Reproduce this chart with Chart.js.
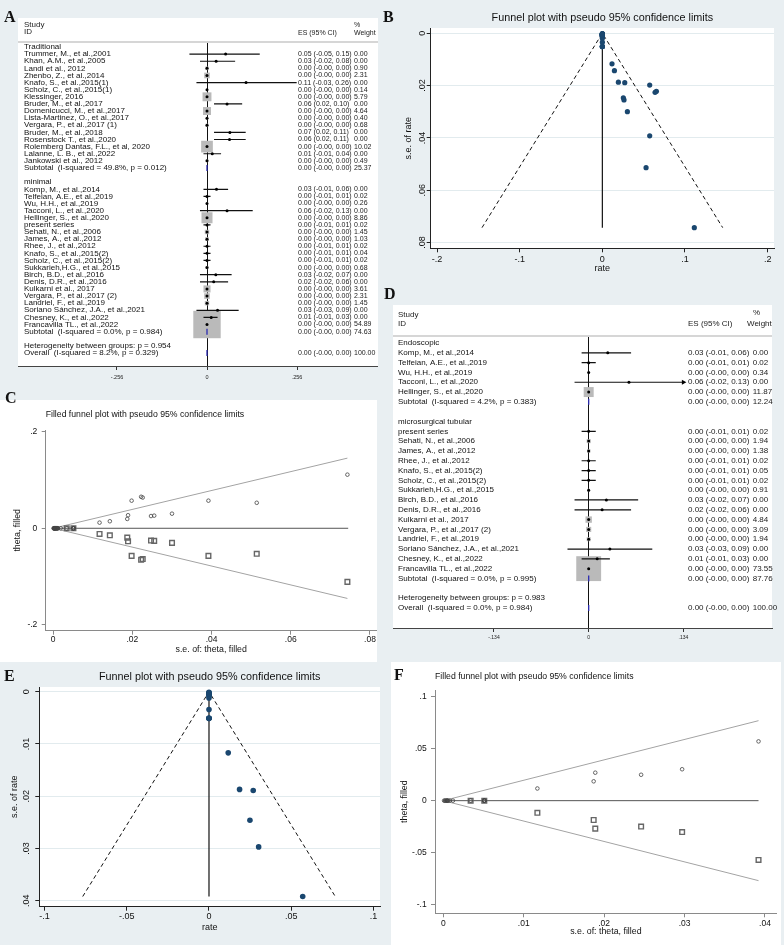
<!DOCTYPE html>
<html>
<head>
<meta charset="utf-8">
<script src="https://cdn.jsdelivr.net/npm/chart.js@4.4.1/dist/chart.umd.min.js"></script>
<style>
  html, body { margin: 0; padding: 0; }
  body { background: #e9eff2; width: 784px; height: 945px; position: relative; overflow: hidden;
         font-family: "Liberation Sans", Arial, sans-serif; }
  .box { position: absolute; background: #fff; }
  canvas { position: absolute; }
  .tag { position: absolute; font: bold 16px/16px "Liberation Serif", "Times New Roman", serif; color: #111; }
  .hd { position: absolute; font-size: 8px; line-height: 8px; color: #222; white-space: nowrap; }
  .hd.sm { font-size: 7px; line-height: 8px; }
  .rule { position: absolute; height: 2px; background: #d6d6d6; }
</style>
</head>
<body>
<div class="box" style="left:18px;top:18px;width:360px;height:348px"></div>
<div class="box" style="left:0;top:400px;width:377px;height:262px"></div>
<div class="box" style="left:393px;top:305px;width:379px;height:323px"></div>
<div class="box" style="left:391px;top:662px;width:390px;height:283px"></div>

<canvas id="cA" width="360" height="374" style="left:18px;top:18px"></canvas>
<canvas id="cB" width="394" height="278" style="left:390px;top:0"></canvas>
<canvas id="cC" width="377" height="270" style="left:0;top:395px"></canvas>
<canvas id="cD" width="391" height="345" style="left:393px;top:305px"></canvas>
<canvas id="cE" width="390" height="280" style="left:0;top:665px"></canvas>
<canvas id="cF" width="390" height="283" style="left:391px;top:662px"></canvas>

<!-- forest plot headers -->
<div class="hd" style="left:24px;top:21px">Study</div>
<div class="hd" style="left:24px;top:28px">ID</div>
<div class="hd sm" style="left:298px;top:29px">ES (95% CI)</div>
<div class="hd sm" style="left:354px;top:21px">%</div>
<div class="hd sm" style="left:354px;top:29px">Weight</div>
<div class="rule" style="left:18px;top:41px;width:360px"></div>

<div class="hd" style="left:398px;top:311px">Study</div>
<div class="hd" style="left:398px;top:320px">ID</div>
<div class="hd" style="left:688px;top:320px">ES (95% CI)</div>
<div class="hd" style="left:753px;top:309px">%</div>
<div class="hd" style="left:747px;top:320px">Weight</div>
<div class="rule" style="left:393px;top:335px;width:379px"></div>

<div class="tag" style="left:4px;top:9px">A</div>
<div class="tag" style="left:383px;top:9px">B</div>
<div class="tag" style="left:5px;top:390px">C</div>
<div class="tag" style="left:384px;top:286px">D</div>
<div class="tag" style="left:4px;top:668px">E</div>
<div class="tag" style="left:394px;top:667px">F</div>

<script>
// ---------- panel A: forest plot, all studies ----------
const aLabels = [
  'Traditional',
  'Trummer, M., et al.,2001', 'Khan, A.M., et al.,2005', 'Landi et al., 2012', 'Zhenbo, Z., et al.,2014',
  'Knafo, S., et al.,2015(1)', 'Scholz, C., et al.,2015(1)', 'Klessinger, 2016', 'Bruder, M., et al.,2017',
  'Domenicucci, M., et al.,2017', 'Lista-Martinez, O., et al.,2017', 'Vergara, P., et al.,2017 (1)',
  'Bruder, M., et al.,2018', 'Rosenstock T., et al.,2020', 'Rolemberg Dantas, F.L., et al, 2020',
  'Lalanne, L. B., et al.,2022', 'Jankowski et al., 2012',
  'Subtotal  (I-squared = 49.8%, p = 0.012)',
  '',
  'minimal',
  'Komp, M., et al.,2014', 'Telfeian, A.E., et al.,2019', 'Wu, H.H., et al.,2019', 'Tacconi, L., et al.,2020',
  'Hellinger, S., et al.,2020', 'present series', 'Sehati, N., et al.,2006', 'James, A., et al.,2012',
  'Rhee, J., et al.,2012', 'Knafo, S., et al.,2015(2)', 'Scholz, C., et al.,2015(2)', 'Sukkarieh,H.G., et al.,2015',
  'Birch, B.D., et al.,2016', 'Denis, D.R., et al.,2016', 'Kulkarni et al., 2017', 'Vergara, P., et al.,2017 (2)',
  'Landriel, F., et al.,2019', 'Soriano Sánchez, J.A., et al.,2021', 'Chesney, K., et al.,2022',
  'Francavilla TL., et al.,2022',
  'Subtotal  (I-squared = 0.0%, p = 0.984)',
  '',
  'Heterogeneity between groups: p = 0.954',
  'Overall  (I-squared = 8.2%, p = 0.329)'
];
const aEsText = ['',
  '0.05 (-0.05, 0.15)', '0.03 (-0.02, 0.08)', '0.00 (-0.00, 0.00)', '0.00 (-0.00, 0.00)', '0.11 (-0.03, 0.26)',
  '0.00 (-0.00, 0.00)', '0.00 (-0.00, 0.00)', '0.06 (0.02, 0.10)', '0.00 (-0.00, 0.00)', '0.00 (-0.00, 0.00)',
  '0.00 (-0.00, 0.00)', '0.07 (0.02, 0.11)', '0.06 (0.02, 0.11)', '0.00 (-0.00, 0.00)', '0.01 (-0.01, 0.04)',
  '0.00 (-0.00, 0.00)', '0.00 (-0.00, 0.00)', '', '',
  '0.03 (-0.01, 0.06)', '0.00 (-0.01, 0.01)', '0.00 (-0.00, 0.00)', '0.06 (-0.02, 0.13)', '0.00 (-0.00, 0.00)',
  '0.00 (-0.01, 0.01)', '0.00 (-0.00, 0.00)', '0.00 (-0.00, 0.00)', '0.00 (-0.01, 0.01)', '0.00 (-0.01, 0.01)',
  '0.00 (-0.01, 0.01)', '0.00 (-0.00, 0.00)', '0.03 (-0.02, 0.07)', '0.02 (-0.02, 0.06)', '0.00 (-0.00, 0.00)',
  '0.00 (-0.00, 0.00)', '0.00 (-0.00, 0.00)', '0.03 (-0.03, 0.09)', '0.01 (-0.01, 0.03)', '0.00 (-0.00, 0.00)',
  '0.00 (-0.00, 0.00)', '', '', '0.00 (-0.00, 0.00)'];
const aWeight = [null, 0, 0, 0.90, 2.31, 0, 0.14, 5.79, 0, 4.64, 0.40, 0.68, 0, 0, 10.02, 0, 0.49, 25.37, null, null,
  0, 0.02, 0.26, 0, 8.86, 0.02, 1.45, 1.03, 0.02, 0.04, 0.02, 0.68, 0, 0, 3.61, 2.31, 1.45, 0, 0, 54.89, 74.63,
  null, null, 100];
const aEs = [null, 0.053, 0.026, 0, 0, 0.111, 0, 0, 0.057, 0, 0, 0, 0.065, 0.064, 0, 0.015, 0, 0, null, null,
  0.027, 0, 0, 0.057, 0, 0, 0, 0, 0, 0, 0, 0, 0.025, 0.019, 0, 0, 0, 0.030, 0.012, 0, 0, null, null, 0];
const aLo = [null, -0.05, -0.02, 0, 0, -0.03, 0, 0, 0.02, 0, 0, 0, 0.02, 0.02, 0, -0.01, 0, 0, null, null,
  -0.01, -0.01, 0, -0.02, 0, -0.01, 0, 0, -0.01, -0.01, -0.01, 0, -0.02, -0.02, 0, 0, 0, -0.03, -0.01, 0, 0,
  null, null, 0];
const aHi = [null, 0.15, 0.08, 0, 0, 0.255, 0, 0, 0.10, 0, 0, 0, 0.11, 0.11, 0, 0.04, 0, 0, null, null,
  0.06, 0.01, 0, 0.13, 0, 0.01, 0, 0, 0.01, 0.01, 0.01, 0, 0.07, 0.06, 0, 0, 0, 0.09, 0.03, 0, 0, null, null, 0];
const aXTicks = [-0.256, 0, 0.256];

// ---------- panel D: forest plot, minimal-access studies ----------
const dLabels = [
  'Endoscopic', 'Komp, M., et al.,2014', 'Telfeian, A.E., et al.,2019', 'Wu, H.H., et al.,2019',
  'Tacconi, L., et al.,2020', 'Hellinger, S., et al.,2020', 'Subtotal  (I-squared = 4.2%, p = 0.383)', '',
  'microsurgical tubular', 'present series', 'Sehati, N., et al.,2006', 'James, A., et al.,2012',
  'Rhee, J., et al.,2012', 'Knafo, S., et al.,2015(2)', 'Scholz, C., et al.,2015(2)', 'Sukkarieh,H.G., et al.,2015',
  'Birch, B.D., et al.,2016', 'Denis, D.R., et al.,2016', 'Kulkarni et al., 2017', 'Vergara, P., et al.,2017 (2)',
  'Landriel, F., et al.,2019', 'Soriano Sánchez, J.A., et al.,2021', 'Chesney, K., et al.,2022',
  'Francavilla TL., et al.,2022', 'Subtotal  (I-squared = 0.0%, p = 0.995)', '',
  'Heterogeneity between groups: p = 0.983', 'Overall  (I-squared = 0.0%, p = 0.984)'
];
const dEsText = ['',
  '0.03 (-0.01, 0.06)', '0.00 (-0.01, 0.01)', '0.00 (-0.00, 0.00)', '0.06 (-0.02, 0.13)', '0.00 (-0.00, 0.00)',
  '0.00 (-0.00, 0.00)', '', '',
  '0.00 (-0.01, 0.01)', '0.00 (-0.00, 0.00)', '0.00 (-0.00, 0.00)', '0.00 (-0.01, 0.01)', '0.00 (-0.01, 0.01)',
  '0.00 (-0.01, 0.01)', '0.00 (-0.00, 0.00)', '0.03 (-0.02, 0.07)', '0.02 (-0.02, 0.06)', '0.00 (-0.00, 0.00)',
  '0.00 (-0.00, 0.00)', '0.00 (-0.00, 0.00)', '0.03 (-0.03, 0.09)', '0.01 (-0.01, 0.03)', '0.00 (-0.00, 0.00)',
  '0.00 (-0.00, 0.00)', '', '', '0.00 (-0.00, 0.00)'];
const dWeight = [null, 0, 0.02, 0.34, 0, 11.87, 12.24, null, null, 0.02, 1.94, 1.38, 0.02, 0.05, 0.02, 0.91,
  0, 0, 4.84, 3.09, 1.94, 0, 0, 73.55, 87.76, null, null, 100];
const dEs = [null, 0.027, 0, 0, 0.057, 0, 0, null, null, 0, 0, 0, 0, 0, 0, 0, 0.025, 0.019, 0, 0, 0, 0.030,
  0.012, 0, 0, null, null, 0];
const dLo = [null, -0.01, -0.01, 0, -0.02, 0, 0, null, null, -0.01, 0, 0, -0.01, -0.01, -0.01, 0, -0.02, -0.02,
  0, 0, 0, -0.03, -0.01, 0, 0, null, null, 0];
const dHi = [null, 0.06, 0.01, 0, 0.134, 0, 0, null, null, 0.01, 0, 0, 0.01, 0.01, 0.01, 0, 0.07, 0.06,
  0, 0, 0, 0.09, 0.03, 0, 0, null, null, 0];
const dArrow = ['Tacconi, L., et al.,2020'];   // CI runs off the axis
const dXTicks = [-0.134, 0, 0.134];

// ---------- panel B / C: funnel data, all studies (rate, s.e.) ----------
const bRate = [0.0529, 0.0262, 0, 0, 0.1113, 0, 0, 0.0573, 0, 0, 0, 0.0654, 0.0638, 0, 0.0146, 0,
  0.0271, 0, 0, 0.0573, 0, 0, 0, 0, 0, 0, 0, 0, 0.0254, 0.0194, 0, 0, 0, 0.0303, 0.0117, 0];
const bSe = [0.0514, 0.0255, 0.0008, 0.0005, 0.0743, 0.0019, 0.0003, 0.0198, 0.0003, 0.0011, 0.0009, 0.0222,
  0.0226, 0.0002, 0.0143, 0.0010, 0.0189, 0.0051, 0.0012, 0.0392, 0.0002, 0.0051, 0.0005, 0.0006, 0.0051,
  0.0034, 0.0051, 0.0008, 0.0247, 0.0187, 0.0003, 0.0004, 0.0005, 0.0300, 0.0117, 0.0001];
const bLimRate = [-0.1456, 0, 0.1456];
const bLimSe = [0.0743, 0, 0.0743];
const bMidRate = [0, 0];
const bMidSe = [0, 0.0743];
const bXTicks = [-0.2, -0.1, 0, 0.1, 0.2];
const bYTicks = [0, 0.02, 0.04, 0.06, 0.08];

const cFillSe = [0.0514, 0.0255, 0.0743, 0.0198, 0.0222, 0.0226, 0.0143, 0.0189, 0.0392, 0.0247, 0.0187,
  0.0300, 0.0117, 0.0034, 0.0051];
const cFillTheta = [-0.0529, -0.0262, -0.1113, -0.0573, -0.0654, -0.0638, -0.0146, -0.0271, -0.0573, -0.0254,
  -0.0194, -0.0303, -0.0117, 0, 0];
const cLimSe = [0.0743, 0, 0.0743];
const cLimTheta = [0.1456, 0, -0.1456];
const cMidSe = [0, 0.0745];
const cMidTheta = [0, 0];
const cXTicks = [0, 0.02, 0.04, 0.06, 0.08];
const cYTicks = [-0.2, 0, 0.2];

// ---------- panel E / F: funnel data, minimal-access studies ----------
const eRate = [0.0269, 0, 0, 0.0570, 0, 0, 0, 0, 0, 0, 0, 0, 0.0249, 0.0186, 0, 0, 0, 0.0302, 0.0117, 0];
const eSe = [0.0189, 0.0051, 0.0012, 0.0392, 0.0002, 0.0051, 0.0005, 0.0006, 0.0051, 0.0034, 0.0051, 0.0008,
  0.0246, 0.0187, 0.0003, 0.0004, 0.0005, 0.0297, 0.0117, 0.0001];
const eLimRate = [-0.0768, 0, 0.0768];
const eLimSe = [0.0392, 0, 0.0392];
const eMidRate = [0, 0];
const eMidSe = [0, 0.0392];
const eXTicks = [-0.1, -0.05, 0, 0.05, 0.1];
const eYTicks = [0, 0.01, 0.02, 0.03, 0.04];

const fFillSe = [0.0392, 0.0297, 0.0246, 0.0189, 0.0187, 0.0117, 0.0034, 0.0051];
const fFillTheta = [-0.0570, -0.0302, -0.0249, -0.0269, -0.0186, -0.0117, 0, 0];
const fLimSe = [0.0392, 0, 0.0392];
const fLimTheta = [0.0769, 0, -0.0769];
const fMidSe = [0, 0.0392];
const fMidTheta = [0, 0];
const fXTicks = [0, 0.01, 0.02, 0.03, 0.04];
const fYTicks = [-0.1, -0.05, 0, 0.05, 0.1];

// ---------- helpers ----------
const FONT = '"Liberation Sans", Arial, sans-serif';
const NAVY = '#1a476f';
Chart.defaults.font.family = FONT;
Chart.defaults.color = '#111';

// stata style numbers: .05, -.2, 0
function stataNum(v) {
  if (Math.abs(v) < 1e-12) return '0';
  return String(parseFloat(v.toFixed(4))).replace(/^(-?)0\./, '$1.');
}

function pts(xs, ys) {
  return xs.map((x, i) => ({x: x, y: ys[i]}));
}

// extra drawing: white plot region, titles, rotated y labels, text columns
function stataExtras(cfg) {
  return {
    id: 'stataExtras',
    beforeDraw(chart) {
      if (!cfg.plotFill) return;
      const a = chart.chartArea, ctx = chart.ctx;
      ctx.save();
      ctx.fillStyle = cfg.plotFill;
      ctx.fillRect(a.left, a.top, a.right - a.left, a.bottom - a.top);
      ctx.restore();
    },
    afterDraw(chart) {
      const a = chart.chartArea, ctx = chart.ctx;
      ctx.save();
      ctx.fillStyle = '#111';
      ctx.textBaseline = 'middle';
      if (cfg.title) {
        ctx.font = cfg.title.font;
        ctx.textAlign = cfg.title.align === 'start' ? 'left' : 'center';
        const tx = cfg.title.align === 'start' ? a.left : (a.left + a.right) / 2;
        ctx.fillText(cfg.title.text, tx, cfg.title.y);
      }
      if (cfg.rotY) {
        const s = chart.scales.y;
        ctx.font = cfg.rotY.font;
        ctx.textAlign = 'center';
        s.ticks.forEach(t => {
          ctx.save();
          ctx.translate(a.left - cfg.rotY.gap, s.getPixelForValue(t.value));
          ctx.rotate(-Math.PI / 2);
          ctx.fillText(stataNum(t.value), 0, 0);
          ctx.restore();
        });
      }
      if (cfg.columns) {
        const s = chart.scales.y;
        ctx.font = cfg.columns.font;
        ctx.fillStyle = '#222';
        ctx.textAlign = 'left';
        cfg.columns.items.forEach(col => {
          col.text.forEach((txt, i) => {
            if (txt) ctx.fillText(txt, col.x, s.getPixelForValue(i));
          });
        });
      }
      ctx.restore();
    }
  };
}

function axis(o) {
  return {
    min: o.min, max: o.max, reverse: !!o.reverse,
    afterBuildTicks: s => { s.ticks = o.ticks.map(v => ({value: v})); },
    afterFit: s => { if (s.isHorizontal()) s.height = o.size; else s.width = o.size; },
    grid: { drawOnChartArea: !!o.gridColor, color: o.gridColor || o.color, tickColor: o.color, tickLength: 4 },
    border: { color: o.color, width: 1 },
    ticks: { display: o.showTicks !== false, callback: stataNum, font: {size: o.font}, color: '#111',
             padding: o.tickPad, maxRotation: 0, autoSkip: false },
    title: { display: true, text: o.title, font: {size: o.titleFont || o.font}, color: '#111', padding: o.titlePad }
  };
}

function makeChart(id, datasets, padding, x, y, extras) {
  return new Chart(document.getElementById(id), {
    type: 'scatter',
    data: { datasets: datasets },
    options: {
      responsive: false, animation: false, devicePixelRatio: 1,
      layout: { padding: padding, autoPadding: false },
      plugins: { legend: {display: false}, tooltip: {enabled: false}, colors: {enabled: false} },
      scales: { x: x, y: y }
    },
    plugins: [stataExtras(extras)]
  });
}

// datasets for a forest plot: dots, pooled marks, CI lines, weight boxes
function forestSets(labels, es, lo, hi, wt, boxScale, arrows) {
  const ci = [], boxes = [], dots = [], pooled = [], arrowPts = [];
  labels.forEach((lab, i) => {
    if (es[i] === null) return;
    if (/^(Subtotal|Overall)/.test(lab)) { pooled.push({x: es[i], y: i}); return; }
    ci.push({x: lo[i], y: i}, {x: hi[i], y: i}, {x: NaN, y: NaN});
    dots.push({x: es[i], y: i});
    boxes.push({x: es[i], y: i, w: wt[i]});
    if (arrows.includes(lab)) arrowPts.push({x: hi[i], y: i});
  });
  return [
    { data: dots, pointRadius: 1.5, pointBackgroundColor: '#000', pointBorderWidth: 0 },
    { data: arrowPts, pointStyle: 'triangle', pointRotation: 90, pointRadius: 3,
      pointBackgroundColor: '#000', pointBorderWidth: 0 },
    { data: pooled, pointStyle: 'line', pointRotation: 90, pointRadius: 3,
      pointBorderColor: '#2b2bb0', pointBorderWidth: 1.3 },
    { data: ci, showLine: true, borderColor: '#111', borderWidth: 1.2, pointRadius: 0 },
    { data: boxes, pointStyle: 'rect', pointBackgroundColor: '#bababa', pointBorderWidth: 0,
      pointRadius: c => boxScale * Math.sqrt(c.raw.w) / Math.SQRT2 }
  ];
}

function forestX(min, max, ticks, size, font, pad) {
  return {
    min: min, max: max,
    afterBuildTicks: s => { s.ticks = ticks.map(v => ({value: v})); },
    afterFit: s => { s.height = size; },
    grid: { drawOnChartArea: true, tickLength: 4, tickColor: '#333',
            color: c => (c.tick && c.tick.value === 0) ? '#111' : 'rgba(0,0,0,0)' },
    border: { color: '#444', width: 1 },
    ticks: { callback: stataNum, font: {size: font}, color: '#222', padding: pad, maxRotation: 0, autoSkip: false }
  };
}

function forestY(min, max, labels, font, pad) {
  return {
    min: min, max: max, reverse: true,
    afterFit: s => { s.width = 0; },
    grid: { display: false }, border: { display: false },
    ticks: { stepSize: 1, autoSkip: false, includeBounds: false, mirror: true, crossAlign: 'near', padding: pad,
             font: {size: font}, color: '#111',
             callback: v => Number.isInteger(v) ? (labels[v] || '') : '' }
  };
}

const wText = w => w.map(v => v === null ? '' : v.toFixed(2));

// ---------- A ----------
makeChart('cA', forestSets(aLabels, aEs, aLo, aHi, aWeight, 3.7, []),
  {top: 25, left: 0, right: 0, bottom: 0},
  forestX(-0.5375, 0.4863, aXTicks, 26, 5.5, 3.7),
  forestY(-0.562, 44.83, aLabels, 8, 6),
  {columns: {font: '7px ' + FONT, items: [{x: 280, text: aEsText}, {x: 336, text: wText(aWeight)}]}});

// ---------- D ----------
makeChart('cD', forestSets(dLabels, dEs, dLo, dHi, dWeight, 2.9, dArrow),
  {top: 32, left: 0, right: 12, bottom: 0},
  forestX(-0.2769, 0.2594, dXTicks, 22, 5, 3),
  forestY(-0.612, 29.05, dLabels, 8, 5),
  {columns: {font: '8px ' + FONT, items: [{x: 295, text: dEsText}, {x: 359.7, text: wText(dWeight)}]}});

// ---------- B ----------
makeChart('cB', [
    { data: pts(bRate, bSe), pointRadius: 2.6, pointBackgroundColor: NAVY, pointBorderWidth: 0 },
    { data: pts(bMidRate, bMidSe), showLine: true, borderColor: '#111', borderWidth: 1.2, pointRadius: 0 },
    { data: pts(bLimRate, bLimSe), showLine: true, borderColor: '#111', borderWidth: 1, borderDash: [4, 3], pointRadius: 0 }
  ],
  {top: 28, left: 0, right: 10, bottom: 0},
  axis({min: -0.2077, max: 0.2077, ticks: bXTicks, size: 29.7, color: '#222', font: 9, tickPad: 1.6,
        title: 'rate', titlePad: {top: 0, bottom: 3.6}}),
  axis({min: -0.002, max: 0.0822, reverse: true, ticks: bYTicks, size: 40.7, color: '#222', gridColor: '#e2ebee',
        font: 9, showTicks: false, title: 's.e. of rate', titlePad: {top: 12.9, bottom: 0}}),
  {plotFill: '#fff', rotY: {font: '9px ' + FONT, gap: 7.8},
   title: {text: 'Funnel plot with pseudo 95% confidence limits', font: '10.8px ' + FONT, y: 18.3}});

// ---------- C ----------
makeChart('cC', [
    { data: pts(bSe, bRate), pointRadius: 1.8, pointBackgroundColor: 'rgba(0,0,0,0)',
      pointBorderColor: '#444', pointBorderWidth: 0.8 },
    { data: pts(cFillSe, cFillTheta), pointStyle: 'rect', pointRadius: 3.3, pointBackgroundColor: 'rgba(0,0,0,0)',
      pointBorderColor: '#666', pointBorderWidth: 1.4 },
    { data: pts(cMidSe, cMidTheta), showLine: true, borderColor: '#555', borderWidth: 1, pointRadius: 0 },
    { data: pts(cLimSe, cLimTheta), showLine: true, borderColor: '#a3a3a3', borderWidth: 1, pointRadius: 0 }
  ],
  {top: 35, left: 0, right: 0.3, bottom: 0},
  axis({min: -0.0019, max: 0.0817, ticks: cXTicks, size: 34.3, color: '#8a8a8a', font: 8.5, tickPad: 0.3,
        title: 's.e. of: theta, filled', titleFont: 8.8, titlePad: {top: 0, bottom: 10.4}}),
  axis({min: -0.2126, max: 0.204, ticks: cYTicks, size: 45.7, color: '#8a8a8a', font: 8.5, tickPad: 4.4,
        title: 'theta, filled', titleFont: 8.8, titlePad: {top: 12, bottom: 0}}),
  {title: {text: 'Filled funnel plot with pseudo 95% confidence limits', font: '8.7px ' + FONT, y: 20, align: 'start'}});

// ---------- E ----------
makeChart('cE', [
    { data: pts(eRate, eSe), pointRadius: 2.8, pointBackgroundColor: NAVY, pointBorderWidth: 0 },
    { data: pts(eMidRate, eMidSe), showLine: true, borderColor: '#111', borderWidth: 1.2, pointRadius: 0 },
    { data: pts(eLimRate, eLimSe), showLine: true, borderColor: '#111', borderWidth: 1, borderDash: [4, 3], pointRadius: 0 }
  ],
  {top: 22, left: 0, right: 10, bottom: 0},
  axis({min: -0.1032, max: 0.104, ticks: eXTicks, size: 38.3, color: '#222', font: 9, tickPad: 0.6,
        title: 'rate', titlePad: {top: 0, bottom: 12.3}}),
  axis({min: -0.0009, max: 0.04115, reverse: true, ticks: eYTicks, size: 39.3, color: '#222', gridColor: '#e2ebee',
        font: 9, showTicks: false, title: 's.e. of rate', titlePad: {top: 9.6, bottom: 0}}),
  {plotFill: '#fff', rotY: {font: '9px ' + FONT, gap: 12.4},
   title: {text: 'Funnel plot with pseudo 95% confidence limits', font: '10.8px ' + FONT, y: 12}});

// ---------- F ----------
makeChart('cF', [
    { data: pts(eSe, eRate), pointRadius: 1.8, pointBackgroundColor: 'rgba(0,0,0,0)',
      pointBorderColor: '#444', pointBorderWidth: 0.8 },
    { data: pts(fFillSe, fFillTheta), pointStyle: 'rect', pointRadius: 3.3, pointBackgroundColor: 'rgba(0,0,0,0)',
      pointBorderColor: '#666', pointBorderWidth: 1.4 },
    { data: pts(fMidSe, fMidTheta), showLine: true, borderColor: '#555', borderWidth: 1, pointRadius: 0 },
    { data: pts(fLimSe, fLimTheta), showLine: true, borderColor: '#a3a3a3', borderWidth: 1, pointRadius: 0 }
  ],
  {top: 28, left: 0, right: 4.3, bottom: 0},
  axis({min: -0.00103, max: 0.04146, ticks: fXTicks, size: 31.7, color: '#8a8a8a', font: 8.5, tickPad: 0.9,
        title: 's.e. of: theta, filled', titleFont: 8.8, titlePad: {top: 0, bottom: 8}}),
  axis({min: -0.1083, max: 0.1064, ticks: fYTicks, size: 44, color: '#8a8a8a', font: 8.5, tickPad: 4.3,
        title: 'theta, filled', titleFont: 8.8, titlePad: {top: 8.7, bottom: 0}}),
  {title: {text: 'Filled funnel plot with pseudo 95% confidence limits', font: '8.7px ' + FONT, y: 15, align: 'start'}});
</script>
</body>
</html>
